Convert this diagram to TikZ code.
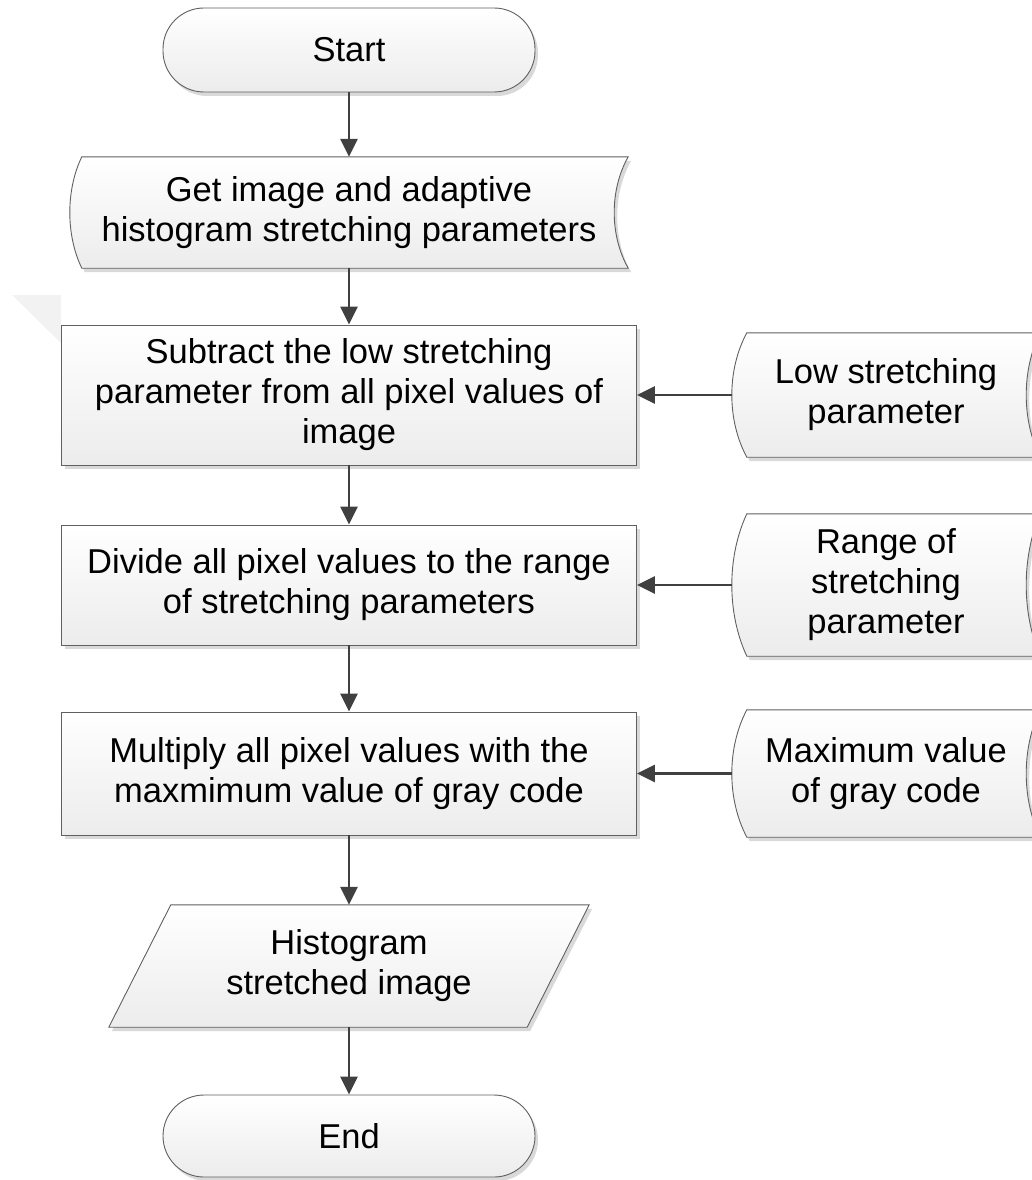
\documentclass[tikz,border=0pt]{standalone}
\usepackage{fontspec}
\setmainfont{Liberation Sans}
\usetikzlibrary{shadows,backgrounds,arrows.meta}
\definecolor{edge}{HTML}{606060}
\definecolor{arrowc}{HTML}{404040}
\definecolor{boxbot}{HTML}{ECECEC}
\tikzset{
 shell/.style={draw=edge, line width=0.9pt, top color=white, bottom color=boxbot,
   drop shadow={shadow xshift=3pt, shadow yshift=-4pt, opacity=0.15, fill=black}},
 lbl/.style={inner sep=0pt, align=center, font=\fontsize{34.5}{40}\selectfont},
 procbox/.style={lbl, shell, rectangle, minimum width=575pt},
 termbox/.style={lbl, shell, rectangle, rounded corners=41pt, minimum width=372pt},
 arr/.style={draw=arrowc, line width=2.6pt, -{Triangle[length=18pt, width=17pt]}},
}
\newcommand\sdshape[4]{\path[shell] ([xshift=#2pt]#1.north west) -- (#1.north east)
  .. controls +({-4*#3/3},#4) and +({-4*#3/3},-#4) .. (#1.south east)
  -- ([xshift=#2pt]#1.south west)
  .. controls +({-4*#2/3},-#4) and +({-4*#2/3},#4) .. ([xshift=#2pt]#1.north west) -- cycle;}
\begin{document}
\begin{tikzpicture}[x=1pt,y=-1pt]
\useasboundingbox (0,0) rectangle (1032,1180);
% main column
\node[termbox, minimum height=84pt] (start) at (349,50) {Start};
\node[lbl, minimum width=558pt, minimum height=111pt] (get) at (349,212.5)
  {Get image and adaptive\\histogram stretching parameters};
\node[procbox, minimum height=140pt] (sub) at (349,395)
  {Subtract the low stretching\\parameter from all pixel values of\\image};
\node[procbox, minimum height=120pt] (div) at (349,585)
  {Divide all pixel values to the range\\of stretching parameters};
\node[procbox, minimum height=123pt] (mul) at (349,773.5)
  {Multiply all pixel values with the\\maxmimum value of gray code};
\node[lbl, minimum width=480pt, minimum height=122pt] (hist) at (349,966)
  {Histogram\\stretched image};
\node[termbox, minimum height=82pt] (end) at (349,1136) {End};
% side inputs
\node[lbl, minimum width=308pt, minimum height=124pt] (low) at (886,395)
  {Low stretching\\parameter};
\node[lbl, minimum width=308pt, minimum height=142pt] (rng) at (886,585)
  {Range of\\stretching\\parameter};
\node[lbl, minimum width=308pt, minimum height=127pt] (max) at (886,773.5)
  {Maximum value\\of gray code};
\begin{scope}[on background layer]
  \fill[gray!10] (12,295) -- (61,295) -- (61,343) -- cycle;
  \sdshape{get}{12}{14}{33}
  \sdshape{low}{15}{14}{37}
  \sdshape{rng}{15}{14}{43}
  \sdshape{max}{15}{14}{38}
  \path[shell] ([xshift=62pt]hist.north west) -- (hist.north east)
    -- ([xshift=-62pt]hist.south east) -- (hist.south west) -- cycle;
\end{scope}
% connectors
\draw[arr] (start.south) -- (get.north);
\draw[arr] (get.south) -- (sub.north);
\draw[arr] (sub.south) -- (div.north);
\draw[arr] (div.south) -- (mul.north);
\draw[arr] (mul.south) -- (hist.north);
\draw[arr] (hist.south) -- (end.north);
\draw[arr] (low.west) -- (sub.east);
\draw[arr] (rng.west) -- (div.east);
\draw[arr] (max.west) -- (mul.east);
\end{tikzpicture}
\end{document}
